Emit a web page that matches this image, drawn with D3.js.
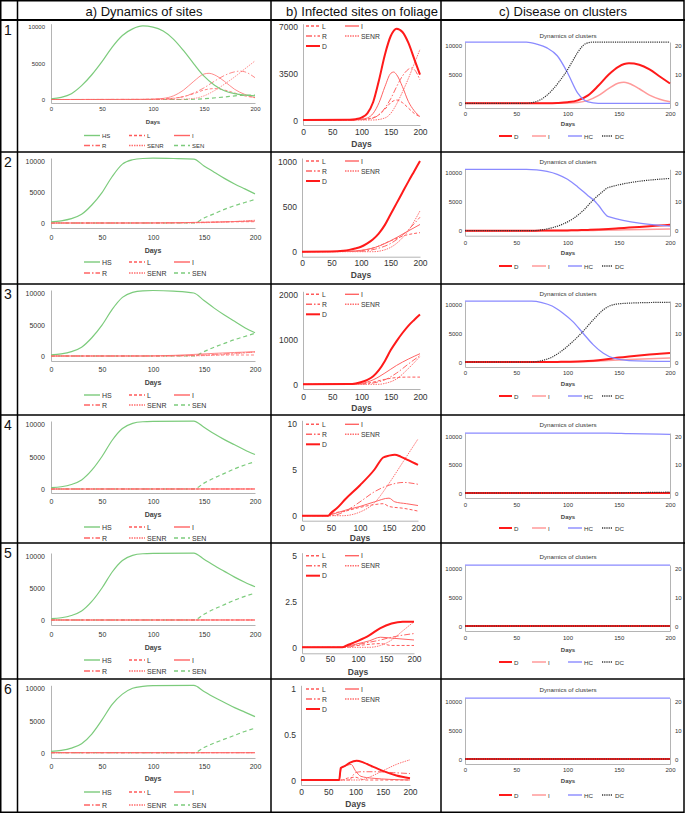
<!DOCTYPE html>
<html>
<head>
<meta charset="utf-8">
<script src="https://cdn.jsdelivr.net/npm/d3@7"></script>
<style>
body { margin: 0; background: #fff; }
svg { display: block; }
</style>
</head>
<body>
<svg id="fig" width="685" height="813"></svg>
<script>
// Data
const rowLabels = ["1", "2", "3", "4", "5", "6"];
const panelTitles = ["a) Dynamics of sites", "b) Infected sites on foliage", "c) Disease on clusters"];
const xTicks = [0, 50, 100, 150, 200];
const siteTicks = [0, 5000, 10000];
const foliageTicks = [[0, 3500, 7000], [0, 500, 1000], [0, 1000, 2000], [0, 5, 10], [0, 2.5, 5], [0, 0.5, 1]];
const clusterTicks = [0, 10, 20];

// healthy sites, one list per row, [day, value]
const HS = [
  [[0,100],[10,300],[20,800],[30,1900],[40,3400],[50,5200],[60,7200],[70,8800],[80,9700],[90,10100],[100,9950],[110,9400],[120,8300],[130,6700],[140,4900],[150,3200],[160,2000],[170,1200],[180,800],[190,600],[200,500]],
  [[0,200],[10,350],[20,700],[30,1400],[40,2900],[50,4900],[60,7500],[70,9500],[80,10200],[90,10400],[100,10450],[120,10400],[140,10300],[150,9200],[160,8200],[170,7200],[180,6300],[190,5500],[200,4700]],
  [[0,200],[10,350],[20,700],[30,1400],[40,2900],[50,4900],[60,7400],[70,9300],[80,10100],[90,10350],[100,10400],[120,10300],[140,10000],[150,8800],[160,7600],[170,6500],[180,5500],[190,4500],[200,3700]],
  [[0,200],[10,350],[20,700],[30,1400],[40,2900],[50,5000],[60,7500],[70,9300],[80,10100],[90,10350],[100,10400],[140,10450],[150,9500],[160,8500],[170,7600],[180,6800],[190,6000],[200,5300]],
  [[0,200],[10,350],[20,700],[30,1400],[40,2900],[50,5000],[60,7500],[70,9300],[80,10100],[90,10350],[100,10400],[140,10450],[150,9500],[160,8500],[170,7600],[180,6700],[190,5900],[200,5200]],
  [[0,200],[10,350],[20,700],[30,1400],[40,2900],[50,5100],[60,7500],[70,9100],[80,10000],[90,10300],[100,10400],[140,10450],[150,9500],[160,8600],[170,7800],[180,7000],[190,6300],[200,5600]]
];
const SEN = [
  [[0,0],[130,0],[150,100],[170,350],[185,550],[200,600]],
  [[0,0],[140,0],[150,800],[160,1500],[170,2200],[180,2800],[190,3300],[200,3800]],
  [[0,0],[140,0],[150,700],[160,1400],[170,2000],[180,2600],[190,3100],[200,3600]],
  [[0,0],[140,0],[150,900],[160,1700],[170,2400],[180,3100],[190,3700],[200,4200]],
  [[0,0],[140,0],[150,900],[160,1700],[170,2400],[180,3100],[190,3700],[200,4200]],
  [[0,0],[140,0],[150,800],[160,1500],[170,2100],[180,2700],[190,3300],[200,3800]]
];
const L = [
  [[0,0],[90,20],[110,80],[120,180],[130,400],[140,800],[150,1300],[160,1500],[170,1300],[180,900],[190,500],[200,250]],
  [[0,0],[80,3],[100,12],[125,50],[150,120],[175,180],[200,210]],
  [[0,0],[100,10],[120,50],[140,110],[160,150],[180,160],[200,160]],
  [[0,0],[45,0],[50,0.2],[75,0.5],[100,0.9],[125,1.2],[140,1.3],[150,1.0],[175,0.8],[200,0.5]],
  [[0,0],[75,0],[80,0.05],[100,0.1],[140,0.2],[160,0.1],[200,0.1]],
  [[0,0],[75,0],[85,0.02],[100,0.03],[110,0.01],[120,0],[200,0]]
];
const I = [
  [[0,0],[90,20],[100,60],[110,150],[120,500],[130,1300],[140,2500],[150,3500],[155,3600],[160,3400],[170,2500],[180,1400],[190,700],[200,250]],
  [[0,0],[70,2],[100,15],[125,50],[150,120],[175,210],[200,300]],
  [[0,0],[90,5],[100,20],[120,100],[140,250],[160,420],[180,560],[200,680]],
  [[0,0],[45,0],[50,0.1],[75,0.6],[100,1.0],[125,1.5],[150,1.9],[160,1.5],[180,1.3],[200,1.1]],
  [[0,0],[72,0],[80,0.05],[100,0.2],[120,0.35],[140,0.55],[160,0.5],[200,0.4]],
  [[0,0],[70,0],[74,0.13],[85,0.16],[92,0.17],[100,0.1],[110,0.04],[130,0.02],[200,0]]
];
const R = [
  [[0,0],[100,20],[120,150],[130,400],[140,900],[150,1600],[160,2500],[170,3300],[180,3800],[185,3900],[190,3800],[200,3000]],
  [[0,0],[100,5],[125,30],[150,90],[175,210],[200,380]],
  [[0,0],[100,5],[120,30],[140,100],[160,250],[180,450],[200,640]],
  [[0,0],[50,0],[75,0.5],[100,1.5],[125,2.6],[150,3.3],[175,3.6],[200,3.4]],
  [[0,0],[80,0],[100,0.15],[140,0.4],[160,0.55],[200,0.75]],
  [[0,0],[88,0],[100,0.08],[110,0.09],[140,0.09],[170,0.08],[200,0.07]]
];
const SENR = [
  [[0,0],[120,0],[140,150],[150,500],[160,1200],[170,2100],[180,3100],[190,4200],[200,5300]],
  [[0,0],[120,0],[140,20],[160,90],[180,230],[200,450]],
  [[0,0],[130,0],[140,20],[160,120],[180,350],[200,620]],
  [[0,0],[70,0],[100,0.4],[125,1.4],[150,3.5],[175,5.9],[200,8.3]],
  [[0,0],[120,0],[140,0.1],[160,0.4],[180,0.9],[200,1.4]],
  [[0,0],[110,0],[125,0.03],[150,0.1],[175,0.17],[200,0.22]]
];
const D = [
  [[0,0],[80,20],[90,60],[100,180],[110,500],[120,1350],[130,3000],[140,4900],[150,6300],[160,6850],[170,6600],[180,5800],[190,4600],[200,3400]],
  [[0,0],[60,5],[70,10],[80,20],[90,35],[100,55],[110,90],[120,135],[130,200],[140,290],[150,410],[160,530],[170,650],[180,770],[190,885],[200,1000]],
  [[0,0],[80,5],[90,20],[100,50],[110,100],[120,180],[130,320],[140,520],[150,760],[160,960],[170,1140],[180,1300],[190,1430],[200,1550]],
  [[0,0],[45,0],[50,0.3],[60,0.8],[75,1.8],[100,3.3],[125,5.0],[140,6.3],[150,6.5],[160,6.6],[170,6.4],[180,6.1],[190,5.8],[200,5.5]],
  [[0,0],[72,0],[80,0.1],[100,0.35],[120,0.65],[140,1.05],[160,1.3],[180,1.4],[200,1.4]],
  [[0,0],[70,0],[73,0.13],[80,0.15],[90,0.19],[102,0.21],[115,0.19],[130,0.15],[150,0.1],[175,0.05],[200,0.02]]
];
// clusters (right axis)
const HC = [
  [[0,21],[60,21],[70,20.3],[80,19],[90,16.3],[100,10.5],[110,3.5],[115,1.5],[120,0.5],[130,0],[200,0]],
  [[0,21],[60,21],[70,20.8],[80,20.3],[90,19.3],[100,17.6],[110,15],[120,12],[127,10],[130,8.8],[140,4.8],[200,1.6]],
  [[0,21],[65,21],[75,20.5],[85,19.3],[95,17],[105,14],[115,10],[125,6],[135,3],[145,1.3],[160,0.5],[200,0.2]],
  [[0,21],[140,21],[160,20.8],[200,20.6]],
  [[0,21],[200,21]],
  [[0,21],[200,21]]
];
const DC = [
  [[0,0],[60,0],[65,0.2],[75,1.5],[85,4.5],[92,7.5],[98,10.4],[105,14.5],[110,17.5],[118,20.5],[125,21],[200,21]],
  [[0,0],[65,0],[75,0.3],[85,1],[95,2.2],[105,4],[115,6.8],[125,10.5],[133,13],[140,14.8],[200,17.9]],
  [[0,0],[65,0],[75,0.5],[85,1.7],[95,4],[105,7],[115,10.5],[125,14.5],[135,18],[145,19.8],[160,20.3],[200,20.6]],
  [[0,0],[140,0],[160,0.1],[200,0.3]],
  [[0,0],[200,0]],
  [[0,0],[200,0]]
];

// Layout
const W = 685, H = 813;
const rowTop = [20, 152, 284, 415, 543, 679, 812];
const colX = [0.5, 17.5, 271, 441, 684];
const FONT = "'Liberation Sans', Arial, sans-serif";
const NARROW = "'Liberation Sans Narrow', 'Arial Narrow', 'Liberation Sans', sans-serif";

const layA = [
  { y1: 26.7, y0: 99.5, yb: 103, tk: 109, dl: 122, l1: 135.5, l2: 145.5, fs: 6 },
  { y1: 161, y0: 223, yb: 228, tk: 237, dl: 250, l1: 262, l2: 273, fs: 7 },
  { y1: 293, y0: 356, yb: 361, tk: 369, dl: 382, l1: 395, l2: 405, fs: 7 },
  { y1: 424, y0: 489, yb: 493, tk: 501, dl: 514, l1: 527, l2: 538, fs: 7 },
  { y1: 556, y0: 620, yb: 625, tk: 634, dl: 647, l1: 660, l2: 671, fs: 7 },
  { y1: 688.3, y0: 752.7, yb: 758, tk: 766, dl: 778, l1: 792, l2: 805, fs: 7 }
];
const layB = [
  { x0: 303, x1: 420, y1: 26.7, y0: 120, yb: 125, tk: 131.7, dl: 144, lg: 26 },
  { x0: 302, x1: 420, y1: 161, y0: 251.7, yb: 256.7, tk: 262.7, dl: 275, lg: 161 },
  { x0: 303, x1: 420, y1: 294.3, y0: 384.3, yb: 389, tk: 396.7, dl: 408.3, lg: 294.3 },
  { x0: 302, x1: 418, y1: 423.3, y0: 515.7, yb: 520.7, tk: 528.3, dl: 538, lg: 424.3 },
  { x0: 302, x1: 414, y1: 555.7, y0: 647.3, yb: 653.3, tk: 659.3, dl: 671.7, lg: 555.7 },
  { x0: 301, x1: 410, y1: 688.3, y0: 780, yb: 785, tk: 792.3, dl: 804.3, lg: 689 }
];
const layC = [
  { tt: 35, y1: 45, y0: 103.3, yb: 108, tk: 114, dl: 124.3, lg: 136 },
  { tt: 161.7, y1: 172.3, y0: 230.7, yb: 235.7, tk: 242.7, dl: 253.3, lg: 266 },
  { tt: 293, y1: 304, y0: 362, yb: 367, tk: 373, dl: 384, lg: 396 },
  { tt: 424, y1: 436, y0: 493, yb: 498, tk: 505, dl: 517, lg: 528 },
  { tt: 556, y1: 568, y0: 626, yb: 631, tk: 638, dl: 650, lg: 662 },
  { tt: 689, y1: 701, y0: 759, yb: 764, tk: 770, dl: 781, lg: 795 }
];

const styles = {
  HS:   { color: "#7ccb7c", width: 1.2, dash: null },
  SEN:  { color: "#7ccb7c", width: 1.2, dash: "4,3" },
  L:    { color: "#ff5a5a", width: 1, dash: "3,2" },
  I:    { color: "#ff6464", width: 1, dash: null },
  R:    { color: "#ff6464", width: 1, dash: "6,2,1.5,2" },
  SENR: { color: "#ff7070", width: 1, dash: "1.5,1" },
  D:    { color: "#ff1a1a", width: 2, dash: null },
  Ic:   { color: "#ff9a9a", width: 1.5, dash: null },
  HC:   { color: "#8a8aff", width: 1.3, dash: null },
  DC:   { color: "#333333", width: 1.2, dash: "1.2,1" }
};

const svg = d3.select("#fig");
svg.append("rect").attr("width", W).attr("height", H).attr("fill", "#fff");

// y scale: label of 0 sits at y0, max at y1, axis line runs down to yb
function makeY(max, y0, y1, yb) {
  const s = d3.scaleLinear().domain([0, max]).range([y0, y1]);
  return s.copy().domain([s.invert(yb), s.invert(y1 - 3)]).range([yb, y1 - 3]);
}

function styleAxis(ax, fs) {
  ax.attr("font-family", FONT).attr("font-size", fs);
  ax.select(".domain").attr("stroke", "#b4b4b4").attr("stroke-width", 1);
  ax.selectAll("text").attr("fill", "#333");
}

function xAxis(g, x, o, fs) {
  const ax = g.append("g")
    .attr("transform", `translate(0,${o.yb})`)
    .call(d3.axisBottom(x).tickValues(xTicks).tickSize(0).tickSizeOuter(0));
  styleAxis(ax, fs);
  ax.selectAll("text").attr("dy", null).attr("y", o.tk - o.yb).attr("dominant-baseline", "central");
}

function yAxis(g, y, xpos, ticks, fs, pad, right) {
  const gen = right ? d3.axisRight(y) : d3.axisLeft(y);
  const ax = g.append("g")
    .attr("transform", `translate(${xpos},0)`)
    .call(gen.tickValues(ticks).tickSize(0).tickSizeOuter(0).tickPadding(pad).tickFormat(d3.format("")));
  styleAxis(ax, fs);
  ax.selectAll("text").attr("dy", null).attr("dominant-baseline", "central");
}

function drawLine(g, data, x, y, st, op) {
  const line = d3.line().x(d => x(d[0])).y(d => y(d[1])).curve(d3.curveMonotoneX);
  g.append("path")
    .datum(data)
    .attr("d", line)
    .attr("fill", "none")
    .attr("stroke", st.color)
    .attr("stroke-width", st.width)
    .attr("stroke-dasharray", st.dash)
    .attr("opacity", op || 1);
}

function legendItem(g, x, y, len, st, label, fs) {
  g.append("line")
    .attr("x1", x).attr("x2", x + len).attr("y1", y).attr("y2", y)
    .attr("stroke", st.color).attr("stroke-width", Math.max(st.width, 1.4))
    .attr("stroke-dasharray", st.dash);
  g.append("text")
    .attr("x", x + len + 2).attr("y", y)
    .attr("dominant-baseline", "central")
    .attr("font-family", FONT).attr("font-size", fs).attr("fill", "#333")
    .text(label);
}

function daysLabel(g, cx, y, fs) {
  g.append("text")
    .attr("x", cx).attr("y", y)
    .attr("text-anchor", "middle").attr("dominant-baseline", "central")
    .attr("font-family", FONT).attr("font-size", fs).attr("font-weight", "bold")
    .attr("fill", "#444")
    .text("Days");
}

// a) Dynamics of sites
function panelA(r) {
  const o = layA[r];
  const g = svg.append("g");
  const x = d3.scaleLinear().domain([0, 200]).range([51, 255]);
  const y = makeY(10000, o.y0, o.y1, o.yb);
  xAxis(g, x, o, o.fs);
  yAxis(g, y, 51, siteTicks, o.fs, 6, false);
  const op = 0.75;
  drawLine(g, SEN[r], x, y, styles.SEN);
  drawLine(g, L[r], x, y, styles.L, op);
  drawLine(g, R[r], x, y, styles.R, op);
  drawLine(g, SENR[r], x, y, styles.SENR, op);
  drawLine(g, I[r], x, y, styles.I, op);
  drawLine(g, HS[r], x, y, styles.HS);
  daysLabel(g, 153, o.dl, o.fs);
  const lx = [84, 129, 174];
  legendItem(g, lx[0], o.l1, 16, styles.HS, "HS", o.fs);
  legendItem(g, lx[1], o.l1, 16, styles.L, "L", o.fs);
  legendItem(g, lx[2], o.l1, 16, styles.I, "I", o.fs);
  legendItem(g, lx[0], o.l2, 16, styles.R, "R", o.fs);
  legendItem(g, lx[1], o.l2, 16, styles.SENR, "SENR", o.fs);
  legendItem(g, lx[2], o.l2, 16, styles.SEN, "SEN", o.fs);
}

// b) Infected sites on foliage
function panelB(r) {
  const o = layB[r];
  const g = svg.append("g");
  const t = foliageTicks[r];
  const x = d3.scaleLinear().domain([0, 200]).range([o.x0, o.x1]);
  const y = makeY(t[2], o.y0, o.y1, o.yb);
  xAxis(g, x, o, 8.5);
  yAxis(g, y, o.x0, t, 8.5, 5, false);
  drawLine(g, L[r], x, y, styles.L);
  drawLine(g, R[r], x, y, styles.R);
  drawLine(g, SENR[r], x, y, styles.SENR);
  drawLine(g, I[r], x, y, styles.I);
  drawLine(g, D[r], x, y, styles.D);
  daysLabel(g, (o.x0 + o.x1) / 2, o.dl, 8.5);
  legendItem(g, 306, o.lg, 14, styles.L, "L", 6.8);
  legendItem(g, 306, o.lg + 10, 14, styles.R, "R", 6.8);
  legendItem(g, 306, o.lg + 20, 14, styles.D, "D", 6.8);
  legendItem(g, 345, o.lg, 14, styles.I, "I", 6.8);
  legendItem(g, 345, o.lg + 10, 14, styles.SENR, "SENR", 6.8);
}

// c) Disease on clusters
function panelC(r) {
  const o = layC[r];
  const g = svg.append("g");
  const x = d3.scaleLinear().domain([0, 200]).range([465, 670]);
  const yl = makeY(10000, o.y0, o.y1, o.yb);
  const yr = makeY(20, o.y0, o.y1, o.yb);
  g.append("text")
    .attr("x", 568).attr("y", o.tt)
    .attr("text-anchor", "middle").attr("dominant-baseline", "central")
    .attr("font-family", FONT).attr("font-size", 6.2).attr("fill", "#333")
    .text("Dynamics of clusters");
  xAxis(g, x, o, 6);
  yAxis(g, yl, 465, siteTicks, 6, 3, false);
  yAxis(g, yr, 670, clusterTicks, 6, 5, true);
  drawLine(g, I[r], x, yl, styles.Ic);
  drawLine(g, D[r], x, yl, styles.D);
  drawLine(g, HC[r], x, yr, styles.HC);
  drawLine(g, DC[r], x, yr, styles.DC);
  daysLabel(g, 568, o.dl, 6);
  legendItem(g, 499, o.lg, 13, styles.D, "D", 6.2);
  legendItem(g, 532, o.lg, 14, styles.Ic, "I", 6.2);
  legendItem(g, 568, o.lg, 14, styles.HC, "HC", 6.2);
  legendItem(g, 602, o.lg, 11, styles.DC, "DC", 6.2);
}

for (let r = 0; r < 6; r++) {
  panelA(r);
  panelB(r);
  panelC(r);
}

// table grid
const grid = svg.append("g").attr("stroke", "#000").attr("fill", "none");
grid.append("rect").attr("x", 0.75).attr("y", 0.75).attr("width", W - 1.75).attr("height", rowTop[6] - 0.5).attr("stroke-width", 1.5);
rowTop.slice(0, 6).forEach((yy, i) => {
  grid.append("line").attr("x1", 0).attr("x2", W).attr("y1", yy).attr("y2", yy)
    .attr("stroke-width", i === 0 ? 2.2 : 1.5);
});
colX.slice(1, 4).forEach(xx => {
  grid.append("line").attr("x1", xx).attr("x2", xx).attr("y1", 0).attr("y2", rowTop[6])
    .attr("stroke-width", 1.5);
});

const titleX = [144, 362, 563];
panelTitles.forEach((t, i) => {
  svg.append("text")
    .attr("x", titleX[i]).attr("y", 11)
    .attr("text-anchor", "middle").attr("dominant-baseline", "central")
    .attr("font-family", NARROW)
    .attr("font-size", 13).attr("fill", "#111")
    .text(t);
});
rowLabels.forEach((t, i) => {
  svg.append("text")
    .attr("x", 8).attr("y", rowTop[i] + 10)
    .attr("text-anchor", "middle").attr("dominant-baseline", "central")
    .attr("font-family", NARROW)
    .attr("font-size", 14).attr("fill", "#111")
    .text(t);
});
</script>
</body>
</html>
